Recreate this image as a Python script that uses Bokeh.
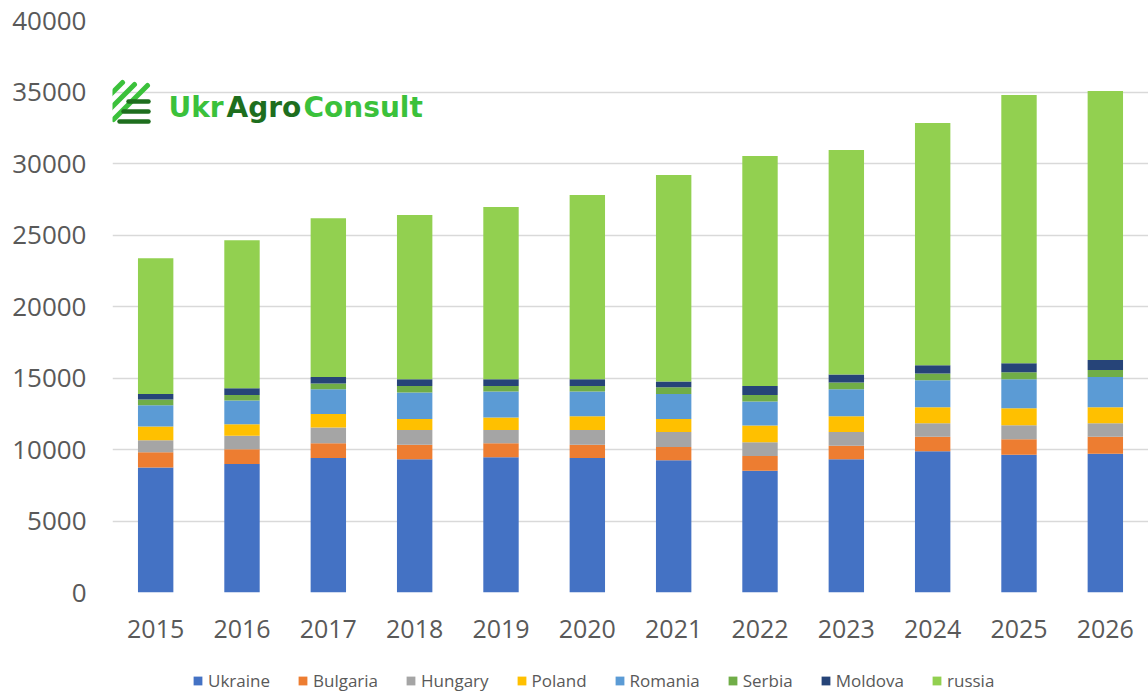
from bokeh.plotting import figure
from bokeh.models import ColumnDataSource, Range1d, FixedTicker, Legend, Label
from bokeh.layouts import column
from bokeh.embed import file_html
from bokeh.resources import INLINE

years = ["2015", "2016", "2017", "2018", "2019", "2020", "2021", "2022", "2023", "2024", "2025", "2026"]
series = ["Ukraine", "Bulgaria", "Hungary", "Poland", "Romania", "Serbia", "Moldova", "russia"]
colors = ["#4472C4", "#ED7D31", "#A5A5A5", "#FFC000", "#5B9BD5", "#70AD47", "#264478", "#92D050"]

ukraine  = [8750, 8980, 9400, 9310, 9450, 9400, 9240, 8520, 9310, 9870, 9640, 9710]
bulgaria = [1050, 1030, 1030, 1030, 980, 940, 930, 1020, 960, 1030, 1070, 1190]
hungary  = [840, 960, 1100, 1020, 930, 1020, 1050, 960, 950, 930, 980, 930]
poland   = [960, 790, 950, 770, 870, 960, 910, 1170, 1100, 1120, 1190, 1120]
romania  = [1490, 1660, 1730, 1850, 1820, 1730, 1750, 1680, 1890, 1890, 2030, 2120]
serbia   = [400, 390, 400, 460, 390, 390, 470, 460, 470, 470, 490, 490]
moldova  = [390, 470, 460, 470, 470, 470, 400, 630, 560, 580, 630, 700]
russia   = [9500, 10360, 11110, 11480, 12040, 12880, 14440, 16080, 15700, 16940, 18760, 18810]

y_ticks = [0, 5000, 10000, 15000, 20000, 25000, 30000, 35000, 40000]

source = ColumnDataSource(dict(years=years, Ukraine=ukraine, Bulgaria=bulgaria, Hungary=hungary,
                               Poland=poland, Romania=romania, Serbia=serbia, Moldova=moldova,
                               russia=russia))

p = figure(x_range=years, y_range=Range1d(0, 40000), width=1148, height=650,
           output_backend="svg", toolbar_location=None,
           min_border_left=112, min_border_right=0, min_border_top=20, min_border_bottom=58)
p.outline_line_color = None

renderers = p.vbar_stack(series, x="years", width=0.41, color=colors, source=source, line_color=None)

p.x_range.range_padding = 0.0
p.xgrid.grid_line_color = None
p.ygrid.grid_line_color = "#d9d9d9"
p.ygrid.grid_line_width = 1.5
p.yaxis.ticker = FixedTicker(ticks=y_ticks)
p.yaxis.axis_line_color = None
p.yaxis.major_tick_line_color = None
p.yaxis.minor_tick_line_color = None
p.yaxis.major_label_text_font = "Open Sans"
p.yaxis.major_label_text_font_size = "26px"
p.yaxis.major_label_text_color = "#595959"
p.yaxis.major_label_standoff = 20
p.xaxis.axis_line_color = None
p.xaxis.major_tick_line_color = None
p.xaxis.major_label_text_font = "Open Sans"
p.xaxis.major_label_text_font_size = "25px"
p.xaxis.major_label_text_color = "#595959"
p.xaxis.major_label_standoff = 21

# Logo (positions in data coordinates: x in category units, y in value units)
def px_to_x(px):
    return (px - 112) / (1036 / 12)

def py_to_y(py):
    return (592 - py) * 40000 / 572

bright = "#3BC13B"
dark = "#1E6E1E"
diag = [((108, 96), (122, 82)), ((110, 108), (134, 84)), ((113, 119), (147, 85))]
p.segment(x0=[px_to_x(a[0]) for a, b in diag], y0=[py_to_y(a[1]) for a, b in diag],
          x1=[px_to_x(b[0]) for a, b in diag], y1=[py_to_y(b[1]) for a, b in diag],
          line_color=bright, line_width=5, line_cap="round")
hl = [(128, 101), (123, 111), (119, 121)]
p.segment(x0=[px_to_x(a) for a, y in hl], y0=[py_to_y(y) for a, y in hl],
          x1=[px_to_x(148)] * 3, y1=[py_to_y(y) for a, y in hl],
          line_color=dark, line_width=4.5, line_cap="round")
for txt, x0, col in [("Ukr", 168, bright), ("Agro", 226, dark), ("Consult", 303, bright)]:
    p.add_layout(Label(x=px_to_x(x0), y=py_to_y(107), text=txt, text_font="DejaVu Sans",
                       text_font_style="bold", text_font_size="28px", text_color=col,
                       text_align="left", text_baseline="middle"))

# Legend strip: same stacked series, hidden, used only to draw the legend
lg = figure(x_range=years, y_range=Range1d(-20, -10), width=1148, height=42,
            output_backend="svg", toolbar_location=None,
            min_border_left=0, min_border_right=0, min_border_top=0, min_border_bottom=0)
lg.outline_line_color = None
lg.axis.visible = False
lg.grid.visible = False
lg_renderers = lg.vbar_stack(series, x="years", width=0.41, color=colors, source=source, line_color=None)
for r in lg_renderers:
    r.visible = False
legend = Legend(items=[(s, [r]) for s, r in zip(series, lg_renderers)], orientation="horizontal",
                location=(80, 0), label_text_font="Open Sans", label_text_font_size="17px",
                label_text_color="#595959", glyph_width=11, glyph_height=11, label_standoff=5,
                spacing=27, border_line_color=None, background_fill_alpha=0, padding=0,
                margin=0, label_height=20, inactive_fill_alpha=0)
lg.add_layout(legend, "center")

open("out.html", "w").write(file_html(column(p, lg, spacing=0), INLINE))
